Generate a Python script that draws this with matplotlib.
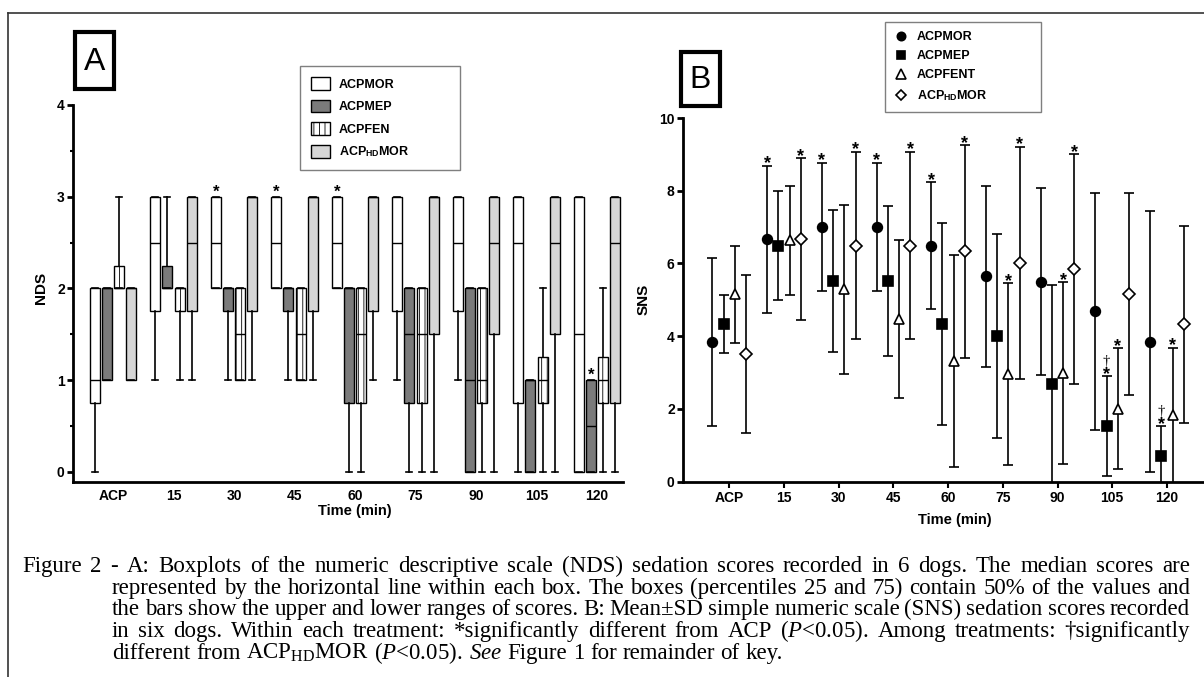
import matplotlib
matplotlib.use("Agg")
import matplotlib.pyplot as plt
from matplotlib.patches import Patch, Rectangle
from matplotlib.lines import Line2D
import numpy as np

plt.rcParams['font.family'] = ['Liberation Sans', 'DejaVu Sans']
plt.rcParams['mathtext.fontset'] = 'custom'
plt.rcParams['mathtext.rm'] = 'Liberation Serif'
plt.rcParams['mathtext.it'] = 'Liberation Serif:italic'
plt.rcParams['mathtext.bf'] = 'Liberation Sans:bold'
plt.rcParams['hatch.linewidth'] = 0.6

groups = ['ACP', '15', '30', '45', '60', '75', '90', '105', '120']
treat_a = ['ACPMOR', 'ACPMEP', 'ACPFEN', r'ACP$_{\mathbf{HD}}$MOR']
treat_b = ['ACPMOR', 'ACPMEP', 'ACPFENT', r'ACP$_{\mathbf{HD}}$MOR']

# panel A, NDS: (min, q1, median, q3, max) per time point
nds_mor = [(0, .75, 1, 2, 2), (1, 1.75, 2.5, 3, 3), (2, 2, 2.5, 3, 3), (2, 2, 2.5, 3, 3),
           (2, 2, 2.5, 3, 3), (1, 1.75, 2.5, 3, 3), (1, 1.75, 2.5, 3, 3), (0, .75, 2.5, 3, 3),
           (0, 0, 1.5, 3, 3)]
nds_mep = [(1, 1, 2, 2, 2), (2, 2, 2, 2.25, 3), (1, 1.75, 2, 2, 2), (1, 1.75, 2, 2, 2),
           (0, .75, 2, 2, 2), (0, .75, 1.5, 2, 2), (0, 0, 1, 2, 2), (0, 0, 1, 1, 1),
           (0, 0, .5, 1, 1)]
nds_fen = [(2, 2, 2, 2.25, 3), (1, 1.75, 2, 2, 2), (1, 1, 1.5, 2, 2), (1, 1, 1.5, 2, 2),
           (0, .75, 1.5, 2, 2), (0, .75, 1.5, 2, 2), (0, .75, 1, 2, 2), (0, .75, 1, 1.25, 2),
           (0, .75, 1, 1.25, 2)]
nds_hd = [(1, 1, 2, 2, 2), (1, 1.75, 2.5, 3, 3), (1, 1.75, 3, 3, 3), (1, 1.75, 3, 3, 3),
          (1, 1.75, 3, 3, 3), (0, 1.5, 3, 3, 3), (0, 1.5, 2.5, 3, 3), (0, 1.5, 2.5, 3, 3),
          (0, .75, 2.5, 3, 3)]
stars_a = [(2, 0), (3, 0), (4, 0), (8, 1)]   # (time index, treatment index)

# panel B, SNS mean and SD
sns_mor_mean = [3.83, 6.66, 7.0, 7.0, 6.49, 5.65, 5.5, 4.68, 3.85]
sns_mor_sd = [2.31, 2.03, 1.77, 1.77, 1.74, 2.49, 2.58, 3.25, 3.58]
sns_mep_mean = [4.33, 6.49, 5.52, 5.52, 4.33, 4.01, 2.67, 1.52, 0.70]
sns_mep_sd = [0.80, 1.49, 1.96, 2.06, 2.78, 2.80, 2.73, 1.37, 0.82]
sns_fen_mean = [5.15, 6.64, 5.29, 4.48, 3.31, 2.96, 2.98, 2.00, 1.82]
sns_fen_sd = [1.33, 1.50, 2.33, 2.17, 2.92, 2.50, 2.50, 1.66, 1.86]
sns_hd_mean = [3.50, 6.66, 6.49, 6.49, 6.33, 6.01, 5.84, 5.17, 4.33]
sns_hd_sd = [2.17, 2.23, 2.58, 2.58, 2.93, 3.20, 3.17, 2.78, 2.71]
stars_b = [(1, 0), (1, 3), (2, 0), (2, 3), (3, 0), (3, 3), (4, 0), (4, 3), (5, 2), (5, 3),
           (6, 2), (6, 3), (7, 1), (7, 2), (8, 1), (8, 2)]
daggers_b = [(7, 1), (8, 1)]

caption = [
    "Figure 2 - A: Boxplots of the numeric descriptive scale (NDS) sedation scores recorded in 6 dogs. The median scores are",
    "represented by the horizontal line within each box. The boxes (percentiles 25 and 75) contain 50% of the values and",
    "the bars show the upper and lower ranges of scores. B: Mean\u00b1SD simple numeric scale (SNS) sedation scores recorded",
    "in six dogs. Within each treatment: *significantly different from ACP ($\\mathit{P}$<0.05). Among treatments: \u2020significantly",
    "different from ACP$_{\\mathrm{HD}}$MOR ($\\mathit{P}$<0.05). $\\mathit{See}$ Figure 1 for remainder of key.",
]

W, H = 1204, 677
fig = plt.figure(figsize=(W / 100, H / 100), dpi=100)


def fx(px):
    return px / W


def fy(py):
    return 1 - py / H


# ---------------- panel A ----------------
axA = fig.add_axes([fx(73), fy(481.7), fx(623) - fx(73), fy(105) - fy(481.7)])
x = np.arange(len(groups))
face_a = ['white', '#7b7b7b', 'white', '#d6d6d6']
hatch_a = [None, None, '|||', None]
offs = np.array([-1.5, -0.5, 0.5, 1.5]) * 0.2
for k, data in enumerate([nds_mor, nds_mep, nds_fen, nds_hd]):
    stats = [dict(whislo=d[0], q1=d[1], med=d[2], q3=d[3], whishi=d[4]) for d in data]
    axA.bxp(stats, positions=x + offs[k], widths=0.165, capwidths=0.1,
            patch_artist=True, showfliers=False, manage_ticks=False,
            boxprops=dict(facecolor=face_a[k], edgecolor='black', linewidth=1.0, hatch=hatch_a[k]),
            whiskerprops=dict(color='black', linewidth=1.2),
            capprops=dict(color='black', linewidth=1.2),
            medianprops=dict(color='black', linewidth=1.0))
allA = [nds_mor, nds_mep, nds_fen, nds_hd]
for g, t in stars_a:
    axA.annotate('*', (x[g] + offs[t], allA[t][g][4]), xytext=(0, 0), textcoords='offset points',
                 ha='center', va='baseline', fontsize=12, fontweight='bold')
axA.set_xlim((73 - 113) / 60.5, (623 - 113) / 60.5)
axA.set_ylim(-0.106, 4)
axA.set_xticks(x)
axA.set_xticklabels(groups)
axA.set_yticks([0, 1, 2, 3, 4])
axA.set_yticks(np.arange(0.5, 4, 1), minor=True)
axA.tick_params(axis='x', length=0, pad=5, labelsize=10)
axA.tick_params(axis='y', which='major', length=4, width=2, pad=2, labelsize=10)
axA.tick_params(axis='y', which='minor', length=2.5, width=1.5)
for lab in axA.get_xticklabels() + axA.get_yticklabels():
    lab.set_fontweight('bold')
for s in ['top', 'right']:
    axA.spines[s].set_visible(False)
for s in ['left', 'bottom']:
    axA.spines[s].set_linewidth(2)
axA.set_ylabel('NDS', fontsize=11, fontweight='bold')
axA.yaxis.set_label_coords(-0.045, 0.514)
axA.set_xlabel('Time (min)', fontsize=10.5, fontweight='bold')
axA.xaxis.set_label_coords(0.513, -0.058)

handles_a = [Patch(facecolor=face_a[k], edgecolor='black', hatch=hatch_a[k], linewidth=1.0)
             for k in range(4)]
legA = fig.legend(handles_a, treat_a, loc='upper left', mode='expand',
                  bbox_to_anchor=(fx(300), fy(176), fx(460) - fx(300), fy(66) - fy(176)),
                  borderaxespad=0, prop=dict(weight='bold', size=9), handlelength=1.5,
                  handleheight=1.2, labelspacing=0.7, borderpad=0.9, handletextpad=0.7,
                  fancybox=False, framealpha=1, edgecolor='#7f7f7f')
legA.get_frame().set_linewidth(1.0)

# ---------------- panel B ----------------
axB = fig.add_axes([fx(683), fy(481.5), fx(1204) - fx(683), fy(118) - fy(481.5)])
offs_b = np.array([-1.5, -0.5, 0.5, 1.5]) * 0.205
means = [sns_mor_mean, sns_mep_mean, sns_fen_mean, sns_hd_mean]
sds = [sns_mor_sd, sns_mep_sd, sns_fen_sd, sns_hd_sd]
mk = ['o', 's', '^', 'D']
mfc = ['black', 'black', 'white', 'white']
ms = [7, 6.5, 7.5, 6.5]
for k in range(4):
    axB.errorbar(x + offs_b[k], means[k], yerr=sds[k], fmt=mk[k], color='black',
                 mfc=mfc[k], mec='black', mew=1.2, ms=ms[k], capsize=3.5,
                 elinewidth=1.2, capthick=1.2, zorder=3)
for g, t in stars_b:
    axB.annotate('*', (x[g] + offs_b[t], means[t][g] + sds[t][g]), xytext=(0, -2),
                 textcoords='offset points', ha='center', va='baseline',
                 fontsize=13, fontweight='bold')
for g, t in daggers_b:
    axB.annotate('\u2020', (x[g] + offs_b[t], means[t][g] + sds[t][g]), xytext=(0, 8),
                 textcoords='offset points', ha='center', va='baseline',
                 fontsize=10.5, family='Liberation Serif')
axB.set_xlim((683 - 729.3) / 54.7, (1204 - 729.3) / 54.7)
axB.set_ylim(0, 10)
axB.set_xticks(x)
axB.set_xticklabels(groups)
axB.set_yticks([0, 2, 4, 6, 8, 10])
axB.tick_params(axis='x', length=4, width=1.5, pad=3, labelsize=10)
axB.tick_params(axis='y', length=4, width=2, pad=2, labelsize=10)
for lab in axB.get_xticklabels() + axB.get_yticklabels():
    lab.set_fontweight('bold')
for s in ['top', 'right']:
    axB.spines[s].set_visible(False)
for s in ['left', 'bottom']:
    axB.spines[s].set_linewidth(2)
axB.set_ylabel('SNS', fontsize=11, fontweight='bold')
axB.yaxis.set_label_coords(-0.062, 0.5)
axB.set_xlabel('Time (min)', fontsize=10.5, fontweight='bold')
axB.xaxis.set_label_coords(0.522, -0.088)

handles_b = [Line2D([], [], ls='none', marker=mk[k], mfc=mfc[k], mec='black', mew=1.2,
                    ms=ms[k] - 1) for k in range(4)]
legB = fig.legend(handles_b, treat_b, loc='upper left', mode='expand',
                  bbox_to_anchor=(fx(885), fy(118), fx(1041) - fx(885), fy(22) - fy(118)),
                  borderaxespad=0, prop=dict(weight='bold', size=9), handlelength=1.0,
                  labelspacing=0.55, borderpad=0.75, handletextpad=0.8,
                  fancybox=False, framealpha=1, edgecolor='#7f7f7f')
legB.get_frame().set_linewidth(1.0)

# ---------------- panel letters ----------------
for letter, (x0, y0, x1, y1) in [('A', (75, 32, 114, 89)), ('B', (681, 52, 720, 106))]:
    fig.add_artist(Rectangle((fx(x0), fy(y1)), fx(x1) - fx(x0), fy(y0) - fy(y1),
                             transform=fig.transFigure, fill=False, lw=3, ec='black'))
    fig.text(fx((x0 + x1) / 2), fy((y0 + y1) / 2 + 1), letter, ha='center', va='center',
             fontsize=23)

# ---------------- frame ----------------
fig.add_artist(Line2D([fx(8), 1], [fy(13), fy(13)], transform=fig.transFigure,
                      color='#333333', lw=1.2))
fig.add_artist(Line2D([fx(8), fx(8)], [fy(13), 0], transform=fig.transFigure,
                      color='#333333', lw=1.2))

# ---------------- caption (justified) ----------------
r = fig.canvas.get_renderer()
cap_font = dict(family='Liberation Serif')
x_right = 1190
probe = fig.text(0, 0, caption[0], fontsize=10, **cap_font)
nat = probe.get_window_extent(r).width
probe.remove()
cap_size = min(10 * (x_right - 22) / nat * 0.985, 16.5)

baselines = [572, 594, 615, 637, 659]
for i, line in enumerate(caption):
    x0 = 22 if i == 0 else 112
    words = line.split(' ')
    texts = [fig.text(0, fy(baselines[i]), w, fontsize=cap_size, va='baseline', ha='left', **cap_font)
             for w in words]
    widths = [t.get_window_extent(r).width for t in texts]
    if i < len(caption) - 1:
        gap = (x_right - x0 - sum(widths)) / (len(words) - 1)
    else:
        gap = cap_size * 100 / 72 * 0.25
    xx = x0
    for t, wd in zip(texts, widths):
        t.set_x(fx(xx))
        xx += wd + gap

fig.savefig('out.png', dpi=100)
